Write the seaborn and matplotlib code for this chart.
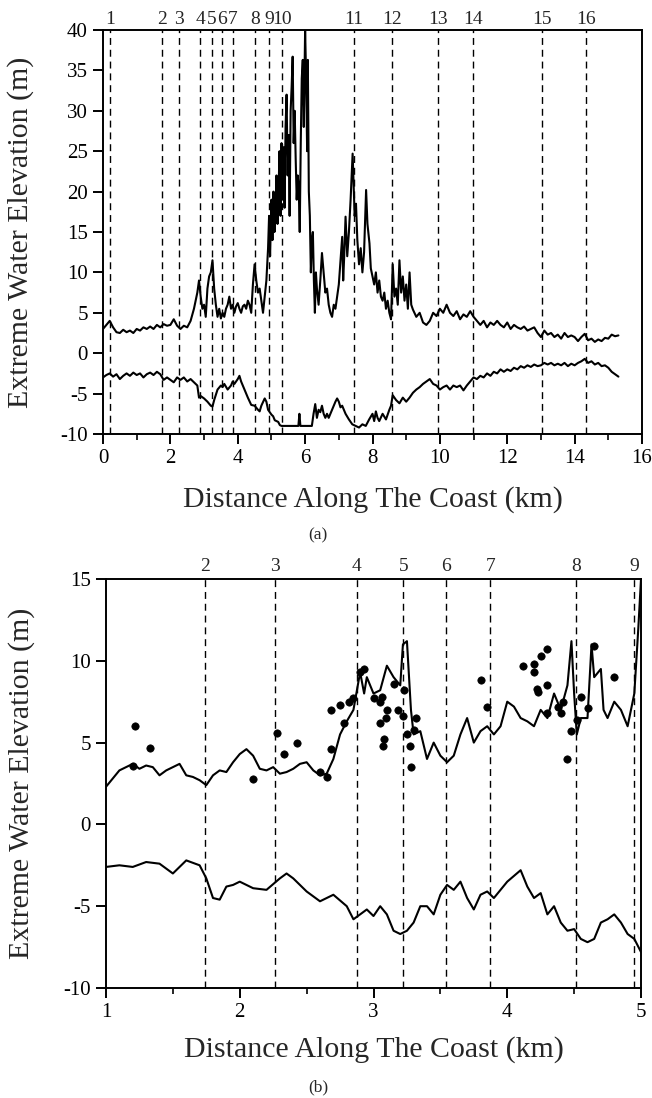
import numpy as np
import pandas as pd
import matplotlib
matplotlib.use("Agg")
import matplotlib.pyplot as plt
from matplotlib.ticker import MultipleLocator
import seaborn as sns

# ---------------- Panel (a) data ----------------
a_upper_x = [0.0,0.1,0.2,0.3,0.4,0.5,0.6,0.7,0.8,0.9,1.0,1.1,1.2,1.3,1.4,1.5,1.6,1.7,1.8,1.9,
             2.0,2.1,2.2,2.3,2.4,2.5,2.6,2.7,2.75,2.8,2.85,2.9,2.95,3.0,3.05,3.1,3.15,3.2,3.25,3.3,
             3.35,3.4,3.45,3.5,3.55,3.6,3.65,3.7,3.75,3.8,3.85,3.9,3.95,4.0,4.05,4.1,4.15,4.2,4.25,4.3,
             4.35,4.4,4.45,4.5,4.55,4.6,4.65,4.7,4.75,4.8,4.85,4.9,4.93,4.96,5.0,5.03,5.06,5.09,5.12,5.15,
             5.18,5.21,5.24,5.27,5.3,5.33,5.36,5.39,5.42,5.45,5.48,5.51,5.54,5.57,5.6,5.63,5.66,5.69,5.72,5.75,
             5.78,5.81,5.84,5.87,5.9,5.93,5.96,6.0,6.03,6.06,6.08,6.11,6.14,6.17,6.2,6.23,6.26,6.29,6.32,6.35,
             6.4,6.45,6.5,6.55,6.6,6.65,6.7,6.75,6.8,6.85,6.9,6.95,7.0,7.05,7.1,7.13,7.16,7.2,7.25,7.3,
             7.35,7.38,7.41,7.44,7.47,7.51,7.55,7.6,7.65,7.7,7.75,7.81,7.85,7.91,7.95,8.0,8.05,8.1,8.15,8.2,
             8.25,8.3,8.35,8.4,8.45,8.5,8.55,8.6,8.65,8.7,8.75,8.8,8.85,8.9,8.95,9.0,9.05,9.1,9.15,9.2,
             9.3,9.4,9.5,9.6,9.7,9.8,9.9,10.0,10.1,10.2,10.3,10.4,10.5,10.6,10.7,10.8,10.9,11.0,11.1,11.2,
             11.3,11.4,11.5,11.6,11.7,11.8,11.9,12.0,12.1,12.2,12.3,12.4,12.5,12.6,12.7,12.8,12.9,13.0,13.1,13.2,
             13.3,13.4,13.5,13.6,13.7,13.8,13.9,14.0,14.1,14.2,14.3,14.4,14.5,14.6,14.7,14.8,14.9,15.0,15.1,15.2,
             15.3]
a_upper_y = [3.0,3.5,4.0,3.2,2.6,2.5,2.9,2.6,2.8,2.5,3.0,2.8,3.2,3.0,3.3,3.0,3.5,3.2,3.6,3.4,
             3.5,4.2,3.4,3.0,3.4,3.2,4.0,5.5,6.5,7.5,9.0,7.0,5.5,6.0,4.5,8.0,9.5,10.0,11.5,8.0,
             6.0,4.5,5.5,4.3,5.0,4.5,5.5,6.0,7.0,5.5,6.0,5.0,5.8,6.2,5.5,5.0,5.8,6.0,5.5,6.5,
             6.0,5.0,8.5,11.0,9.0,7.5,8.0,6.5,5.0,7.0,9.0,13.0,17.0,12.0,19.0,14.0,20.0,15.0,18.0,22.0,
             16.0,20.0,25.0,17.0,26.0,19.0,25.5,18.0,28.0,32.0,22.0,27.0,17.0,30.0,33.0,36.7,26.0,30.0,24.0,19.0,
             22.0,20.5,15.0,26.0,34.0,36.3,28.0,40.0,34.0,25.0,36.3,20.0,17.0,10.0,14.0,15.0,9.0,5.0,10.0,8.0,
             6.0,9.0,12.4,10.0,7.5,8.0,6.0,5.0,4.5,6.0,5.5,7.0,8.5,11.5,14.4,9.0,12.0,16.9,12.0,15.0,
             19.0,22.0,24.7,21.0,17.0,18.5,14.0,11.0,13.0,10.0,12.5,20.2,16.0,13.6,10.5,9.5,8.5,10.0,7.5,9.0,
             7.0,6.5,7.5,5.5,6.5,5.0,4.2,11.0,7.0,8.0,6.0,11.5,7.5,9.5,6.5,8.5,5.5,10.0,6.0,5.4,
             4.5,5.0,3.8,3.5,4.0,5.0,4.6,5.5,5.0,6.0,5.0,4.6,5.2,4.2,4.8,4.5,5.2,4.5,4.0,3.5,
             4.0,3.2,3.8,3.5,4.0,3.5,3.2,3.8,3.0,3.5,3.2,3.0,3.3,2.8,3.0,3.2,2.5,2.0,2.8,2.3,
             2.5,2.0,2.3,1.8,2.5,2.0,2.2,2.0,1.5,2.0,2.4,1.6,1.8,1.4,1.7,1.5,1.9,1.8,2.3,2.1,
             2.2]

a_lower_x = [0.0,0.1,0.2,0.3,0.4,0.5,0.6,0.7,0.8,0.9,1.0,1.1,1.2,1.3,1.4,1.5,1.6,1.7,1.8,1.9,
             2.0,2.1,2.2,2.3,2.4,2.5,2.6,2.7,2.8,2.85,2.9,3.0,3.1,3.2,3.25,3.3,3.4,3.5,3.55,3.6,
             3.7,3.8,3.85,3.9,4.0,4.05,4.1,4.2,4.3,4.4,4.5,4.6,4.65,4.7,4.8,4.85,4.9,5.0,5.05,5.1,
             5.2,5.25,5.3,5.4,5.5,5.6,5.7,5.8,5.83,5.86,5.9,6.0,6.1,6.2,6.25,6.3,6.35,6.4,6.45,6.5,
             6.55,6.6,6.65,6.7,6.8,6.9,6.95,7.0,7.05,7.1,7.2,7.3,7.4,7.5,7.6,7.7,7.8,7.9,8.0,8.05,
             8.1,8.15,8.2,8.3,8.4,8.5,8.55,8.6,8.7,8.8,8.9,9.0,9.1,9.2,9.3,9.4,9.5,9.6,9.7,9.8,
             9.9,10.0,10.1,10.2,10.3,10.4,10.5,10.6,10.7,10.8,10.9,11.0,11.1,11.2,11.3,11.4,11.5,11.6,11.7,11.8,
             11.9,12.0,12.1,12.2,12.3,12.4,12.5,12.6,12.7,12.8,12.9,13.0,13.1,13.2,13.3,13.4,13.5,13.6,13.7,13.8,
             13.9,14.0,14.1,14.2,14.3,14.4,14.5,14.6,14.7,14.8,14.9,15.0,15.1,15.2,15.3]
a_lower_y = [-3.0,-2.7,-2.5,-2.9,-2.6,-3.2,-2.8,-2.5,-2.8,-2.4,-2.7,-2.5,-3.0,-2.6,-2.4,-2.7,-2.3,-2.6,-3.3,-3.0,
             -3.3,-3.6,-3.0,-3.3,-3.0,-3.5,-3.2,-3.6,-4.0,-5.5,-5.3,-5.6,-6.0,-6.5,-6.6,-5.8,-4.5,-4.0,-4.2,-3.8,
             -4.5,-4.0,-3.5,-3.8,-3.2,-2.8,-3.5,-4.5,-5.5,-6.4,-6.5,-7.0,-7.2,-6.5,-5.6,-6.0,-7.0,-7.6,-7.8,-8.3,
             -8.5,-8.9,-9.0,-9.0,-9.0,-9.0,-9.0,-9.0,-7.5,-9.0,-9.0,-9.0,-9.0,-9.0,-7.5,-6.3,-8.0,-7.0,-7.3,-6.5,
             -7.5,-8.0,-7.5,-8.0,-7.0,-6.0,-5.6,-6.0,-6.7,-6.5,-7.5,-8.2,-8.8,-9.0,-9.2,-8.8,-9.0,-8.2,-7.5,-8.4,
             -7.2,-8.0,-8.4,-7.5,-8.2,-7.0,-6.5,-5.2,-5.8,-6.2,-5.5,-6.0,-5.5,-4.9,-4.5,-4.2,-3.8,-3.5,-3.2,-3.8,
             -4.0,-4.5,-4.2,-4.0,-4.5,-4.0,-4.2,-4.0,-4.6,-4.0,-3.5,-3.0,-3.2,-2.8,-3.0,-2.5,-2.8,-2.3,-2.5,-2.0,
             -2.3,-2.0,-2.2,-1.8,-2.0,-1.6,-1.8,-1.5,-1.7,-1.4,-1.6,-1.5,-1.2,-1.4,-1.2,-1.5,-1.3,-1.5,-1.2,-1.6,
             -1.3,-1.5,-1.2,-1.0,-0.7,-1.2,-1.0,-1.4,-1.2,-1.6,-1.5,-1.8,-2.3,-2.6,-2.9]

a_sections_x = [0.22,1.74,2.25,2.88,3.23,3.54,3.86,4.51,4.94,5.32,7.44,8.58,9.95,10.99,13.02,14.35]
a_sections_lbl = ["1","2","3","4","5","6","7","8","9","10","11","12","13","14","15","16"]

# ---------------- Panel (b) data ----------------
b_upper_x = [1.0,1.05,1.1,1.15,1.2,1.25,1.3,1.35,1.4,1.45,1.5,1.55,1.6,1.65,1.7,1.75,1.8,1.85,1.9,1.95,
             2.0,2.05,2.1,2.15,2.2,2.25,2.3,2.35,2.4,2.45,2.5,2.55,2.6,2.65,2.7,2.75,2.8,2.85,2.9,2.93,
             2.95,3.0,3.05,3.1,3.15,3.2,3.22,3.25,3.28,3.3,3.35,3.4,3.45,3.5,3.55,3.6,3.65,3.7,3.75,3.8,
             3.85,3.9,3.95,4.0,4.05,4.1,4.15,4.2,4.25,4.3,4.35,4.4,4.45,4.48,4.5,4.52,4.55,4.6,4.63,4.65,
             4.7,4.72,4.75,4.8,4.85,4.9,4.95,4.98,5.0]
b_upper_y = [2.3,2.8,3.3,3.5,3.7,3.4,3.6,3.5,3.0,3.3,3.5,3.7,3.0,2.9,2.7,2.4,3.0,3.3,3.2,3.8,
             4.3,4.6,4.2,3.4,3.3,3.5,3.1,3.2,3.4,3.7,3.8,3.3,3.0,3.1,4.0,5.5,6.3,7.0,9.3,8.0,
             9.0,8.0,8.2,9.7,9.0,8.5,11.0,11.2,7.0,5.5,5.7,4.0,5.0,4.2,3.8,4.2,5.5,6.5,5.0,5.7,
             6.0,5.5,6.0,7.5,7.2,6.5,6.3,6.0,7.0,6.5,8.0,7.0,8.5,11.2,8.0,5.5,6.5,6.5,11.0,9.0,
             9.5,7.0,6.5,7.5,7.0,6.0,8.0,12.0,15.0]

b_lower_x = [1.0,1.1,1.2,1.3,1.4,1.5,1.6,1.7,1.75,1.8,1.85,1.9,1.95,2.0,2.1,2.2,2.3,2.35,2.4,2.5,
             2.6,2.7,2.8,2.85,2.9,2.95,3.0,3.05,3.1,3.15,3.2,3.25,3.3,3.35,3.4,3.45,3.5,3.55,3.6,3.65,
             3.7,3.75,3.8,3.85,3.9,3.95,4.0,4.1,4.15,4.2,4.25,4.3,4.35,4.4,4.45,4.5,4.55,4.6,4.65,4.7,
             4.75,4.8,4.85,4.9,4.95,5.0]
b_lower_y = [-2.6,-2.5,-2.6,-2.3,-2.4,-3.0,-2.2,-2.5,-3.3,-4.5,-4.6,-3.8,-3.7,-3.5,-3.9,-4.0,-3.3,-3.0,-3.3,-4.1,
             -4.7,-4.3,-5.0,-5.8,-5.5,-5.2,-5.6,-5.0,-5.5,-6.5,-6.7,-6.5,-6.0,-5.0,-5.0,-5.5,-4.3,-3.7,-4.0,-3.5,
             -4.5,-5.2,-4.3,-4.1,-4.5,-4.0,-3.5,-2.8,-3.8,-4.5,-4.2,-5.5,-5.0,-6.0,-6.5,-6.4,-7.0,-7.2,-7.0,-6.0,
             -5.8,-5.5,-6.0,-6.7,-7.0,-7.8]

b_obs_x = [1.2,1.22,1.33,2.1,2.28,2.33,2.43,2.6,2.65,2.68,2.68,2.75,2.78,2.82,2.85,2.9,2.93,3.0,3.05,3.05,
           3.06,3.07,3.08,3.09,3.1,3.15,3.18,3.22,3.23,3.25,3.27,3.28,3.3,3.32,3.8,3.85,4.12,4.2,4.2,4.22,
           4.23,4.25,4.3,4.3,4.3,4.38,4.4,4.42,4.45,4.48,4.52,4.55,4.6,4.65,4.8]
b_obs_y = [3.6,6.0,4.7,2.8,5.6,4.3,5.0,3.2,2.9,4.6,7.0,7.3,6.2,7.5,7.7,9.3,9.5,7.7,7.5,6.2,
           7.8,4.8,5.2,6.5,7.0,8.6,7.0,6.6,8.2,5.5,4.8,3.5,5.8,6.5,8.8,7.2,9.7,9.8,9.3,8.3,
           8.1,10.3,10.7,6.8,8.5,7.2,6.8,7.5,4.0,5.7,6.4,7.8,7.1,10.9,9.0]

b_sections_x = [1.742,2.266,2.875,3.224,3.541,3.873,4.513,4.946]
b_sections_lbl = ["2","3","4","5","6","7","8","9"]

# ---------------- Styling ----------------
sns.set_style("ticks")
plt.rcParams['font.family'] = ['Liberation Serif', 'DejaVu Serif']
plt.rcParams['axes.unicode_minus'] = False
plt.rcParams['axes.linewidth'] = 1.4
plt.rcParams['xtick.major.width'] = 1.4
plt.rcParams['ytick.major.width'] = 1.4
plt.rcParams['xtick.minor.width'] = 1.2
plt.rcParams['xtick.color'] = 'black'
plt.rcParams['ytick.color'] = 'black'

W, H = 652, 1098
fig = plt.figure(figsize=(W / 100, H / 100), dpi=100)

def px_axes(l, r, t, b):
    return [l / W, 1 - b / H, (r - l) / W, (b - t) / H]

ax1 = fig.add_axes(px_axes(103, 642, 30, 434))
ax2 = fig.add_axes(px_axes(106, 641, 579, 988))

df_au = pd.DataFrame({"x": a_upper_x, "y": a_upper_y})
df_al = pd.DataFrame({"x": a_lower_x, "y": a_lower_y})
df_bu = pd.DataFrame({"x": b_upper_x, "y": b_upper_y})
df_bl = pd.DataFrame({"x": b_lower_x, "y": b_lower_y})
df_bo = pd.DataFrame({"x": b_obs_x, "y": b_obs_y})

dash = (0, (5, 3.5))

# Panel (a)
for xv in a_sections_x:
    ax1.axvline(xv, color='black', ls=dash, lw=1.0, zorder=1)
sns.lineplot(data=df_au, x="x", y="y", ax=ax1, color='black', lw=1.5, sort=False, estimator=None, zorder=3)
sns.lineplot(data=df_al, x="x", y="y", ax=ax1, color='black', lw=1.5, sort=False, estimator=None, zorder=3)
ax1.set_xlim(0, 16)
ax1.set_ylim(-10, 40)
ax1.xaxis.set_major_locator(MultipleLocator(2))
ax1.xaxis.set_minor_locator(MultipleLocator(1))
ax1.yaxis.set_major_locator(MultipleLocator(5))
ax1.tick_params(axis='both', which='major', direction='out', length=7, labelsize=15, pad=4)
ax1.tick_params(axis='x', which='minor', direction='out', length=4)
ax1.set_xlabel("Distance Along The Coast (km)", fontsize=21.5, va='center')
ax1.xaxis.set_label_coords(0.5, (434 - 500) / 404)
ax1.set_ylabel("Extreme Water Elevation (m)", fontsize=21.5, va='center')
ax1.yaxis.set_label_coords((21 - 103) / 539, 0.5)
for xv, lb in zip(a_sections_x, a_sections_lbl):
    ax1.text(xv, 1.006, lb, transform=ax1.get_xaxis_transform(), ha='center', va='bottom', fontsize=14)
fig.text(318 / W, 1 - 535 / H, "(a)", ha='center', va='center', fontsize=12.5)

# Panel (b)
for xv in b_sections_x:
    ax2.axvline(xv, color='black', ls=dash, lw=1.0, zorder=1)
sns.lineplot(data=df_bu, x="x", y="y", ax=ax2, color='black', lw=1.5, sort=False, estimator=None, zorder=3)
sns.lineplot(data=df_bl, x="x", y="y", ax=ax2, color='black', lw=1.5, sort=False, estimator=None, zorder=3)
sns.scatterplot(data=df_bo, x="x", y="y", ax=ax2, color='black', s=28, edgecolor='black', linewidth=0.5, zorder=4)
ax2.set_xlim(1, 5)
ax2.set_ylim(-10, 15)
ax2.xaxis.set_major_locator(MultipleLocator(1))
ax2.xaxis.set_minor_locator(MultipleLocator(0.5))
ax2.yaxis.set_major_locator(MultipleLocator(5))
ax2.tick_params(axis='both', which='major', direction='out', length=7, labelsize=15, pad=4)
ax2.tick_params(axis='x', which='minor', direction='out', length=4)
ax2.set_xlabel("Distance Along The Coast (km)", fontsize=21.5, va='center')
ax2.xaxis.set_label_coords(0.5, (988 - 1050) / 409)
ax2.set_ylabel("Extreme Water Elevation (m)", fontsize=21.5, va='center')
ax2.yaxis.set_label_coords((22 - 106) / 535, 0.5)
for xv, lb in zip(b_sections_x, b_sections_lbl):
    ax2.text(xv, 1.01, lb, transform=ax2.get_xaxis_transform(), ha='center', va='bottom', fontsize=14)
fig.text(318 / W, 1 - 1087 / H, "(b)", ha='center', va='center', fontsize=12.5)

for ax in (ax1, ax2):
    for s in ax.spines.values():
        s.set_visible(True)
        s.set_color('black')

fig.savefig("out.png", dpi=100)
